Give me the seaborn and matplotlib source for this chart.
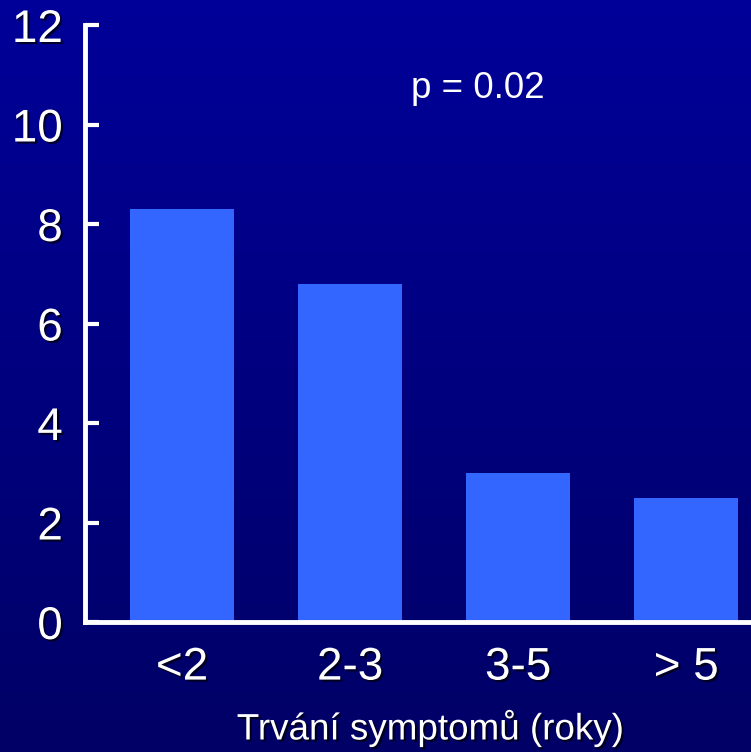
import numpy as np
import pandas as pd
import matplotlib
matplotlib.use("Agg")
import matplotlib.pyplot as plt
import matplotlib.patheffects as pe
from matplotlib.colors import LinearSegmentedColormap
import seaborn as sns

categories = ["<2", "2-3", "3-5", "> 5"]
values = [8.3, 6.8, 3.0, 2.5]
yticks = [0, 2, 4, 6, 8, 10, 12]
xlabel = "Trvání symptomů (roky)"
annotation = "p = 0.02"

sns.set_theme(style="white")
plt.rcParams['font.family'] = ['Liberation Sans', 'DejaVu Sans']

df = pd.DataFrame({"cat": categories, "val": values})

fig = plt.figure(figsize=(7.51, 7.52), dpi=100)

# gradient background
bg = fig.add_axes([0, 0, 1, 1], zorder=-10)
grad = np.linspace(0, 1, 256).reshape(-1, 1)
cmap = LinearSegmentedColormap.from_list("bg", ["#000099", "#000066"])
bg.imshow(grad, aspect="auto", cmap=cmap, extent=[0, 1, 0, 1], origin="upper")
bg.set_axis_off()

ax = fig.add_axes([85/751, 1 - 622/752, 1 - 85/751 + 0.01, (622 - 25)/752])
ax.patch.set_alpha(0)

sns.barplot(data=df, x="cat", y="val", color="#3366FF", saturation=1,
            width=0.62, ax=ax, edgecolor="none")

ax.set_xlim(-0.577, 3.43)
ax.set_ylim(0, 12)
ax.set_yticks(yticks)

ax.set_yticklabels([str(t) for t in yticks], fontsize=33, color="white")
ax.set_xticks(range(len(categories)))
ax.set_xticklabels(categories, fontsize=33, color="white")
ax.tick_params(axis="y", direction="in", length=10, width=3, color="white", pad=16, left=True)
ax.tick_params(axis="x", length=0, pad=17)

for s in ["top", "right"]:
    ax.spines[s].set_visible(False)
for s in ["left", "bottom"]:
    ax.spines[s].set_color("white")
    ax.spines[s].set_linewidth(3.5)
    ax.spines[s].set_zorder(5)

ax.set_xlabel(xlabel, fontsize=26.5, color="white", labelpad=14)
ax.xaxis.label.set_position((0.512, 0))
ax.set_ylabel("")

ax.text(1.76, 10.73, annotation, fontsize=26.5, color="white", ha="center", va="center")

for t in ax.get_yticklabels() + ax.get_xticklabels() + [ax.xaxis.label]:
    t.set_path_effects([pe.withSimplePatchShadow(offset=(1.5, -1.5), shadow_rgbFace="black", alpha=0.7)])

fig.savefig("out.png", dpi=100)
